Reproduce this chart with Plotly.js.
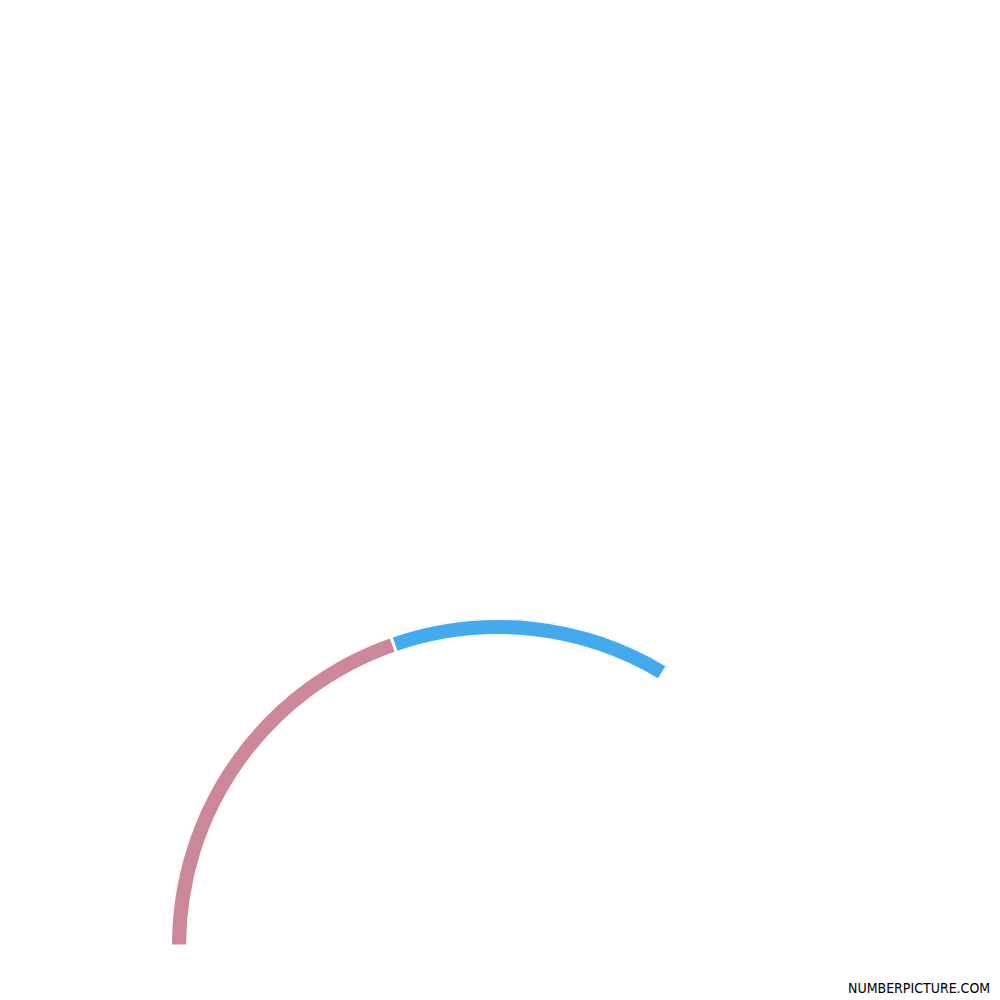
<!DOCTYPE html>
<html>
<head>
<meta charset="utf-8">
<script src="https://cdn.plot.ly/plotly-3.0.1.min.js"></script>
<style>
  html, body { margin: 0; padding: 0; background: #fff; }
  #arc { width: 1000px; height: 1000px; }
</style>
</head>
<body>
<div id="arc"></div>
<script>
// share of the half circle, in percent
const segments = ['first', 'second'];
const shares = [39.4, 27.9];
const colors = ['#CC8899', '#44AAEE'];

window.onload = () => {
  const theta = [];
  const width = [];
  let start = 0;
  shares.forEach(s => {
    const span = s * 1.8;
    theta.push(start + span / 2);
    width.push(span);
    start += span;
  });

  const trace = {
    type: 'barpolar',
    theta: theta,
    width: width,
    r: segments.map(() => 0.052),
    base: segments.map(() => 0.948),
    text: segments,
    hoverinfo: 'text',
    marker: {
      color: colors,
      line: {color: '#ffffff', width: 3}
    }
  };

  const layout = {
    width: 1000,
    height: 1000,
    showlegend: false,
    paper_bgcolor: '#ffffff',
    margin: {l: 0, r: 0, t: 0, b: 0},
    polar: {
      domain: {x: [0.1705, 0.8255], y: [0.054, 0.3815]},
      sector: [0, 180],
      bgcolor: 'rgba(0,0,0,0)',
      radialaxis: {range: [0, 1], visible: false, showgrid: false, showline: false, showticklabels: false, ticks: ''},
      angularaxis: {
        rotation: 180,
        direction: 'clockwise',
        visible: false,
        showgrid: false,
        showline: false,
        showticklabels: false,
        ticks: ''
      }
    },
    annotations: [{
      text: 'NUMBERPICTURE.COM',
      xref: 'paper', yref: 'paper',
      x: 0.992, y: 0.0,
      xanchor: 'right', yanchor: 'bottom',
      yshift: 2,
      showarrow: false,
      font: {family: '"DejaVu Sans Condensed", sans-serif', size: 14, color: '#000000'}
    }]
  };

  Plotly.newPlot('arc', [trace], layout, {staticPlot: true});
};
</script>
</body>
</html>
